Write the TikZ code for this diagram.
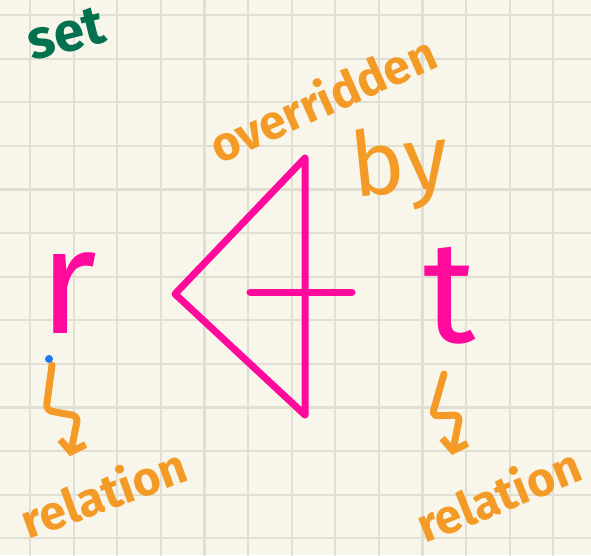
\documentclass[tikz,border=0pt]{standalone}
\usepackage{fontspec}
\setmainfont{Fira Sans}
\usepackage{tikz}
\usetikzlibrary{arrows.meta}
\definecolor{paper}{HTML}{F8F6EA}
\definecolor{gridline}{HTML}{E1DFD3}
\definecolor{hotpink}{HTML}{FF0A9C}
\definecolor{marker}{HTML}{F49A27}
\definecolor{pine}{HTML}{03714F}
\definecolor{dotblue}{HTML}{1A7CF0}
\begin{document}
\begin{tikzpicture}[x=1pt, y=-1pt, line cap=round, line join=round,
  pen/.style={line width=7pt},
  scrawl/.style={text=marker, inner sep=0pt, font=\fontsize{48}{48}\selectfont\bfseries},
  squig/.style={pen, draw=marker, rounded corners=6pt, -{Straight Barb[length=10pt, width=26pt, line width=7pt]}}]
\fill[paper] (0,0) rectangle (591,555);
\useasboundingbox (0,0) rectangle (591,555);
\foreach \k in {0,...,12} {
  \draw[gridline, line width=2.2pt] ({30+43.6*\k},0) -- ({30+43.6*\k},555);
  \draw[gridline, line width=2.2pt] (0,{15+43.6*\k}) -- (591,{15+43.6*\k});
}
\node[text=pine, inner sep=0pt, rotate=14, font=\fontsize{55}{55}\selectfont\bfseries] (set) at (66,34) {set};
\node[scrawl, rotate=24] (over) at (322,98) {overridden};
\node[scrawl, rotate=6, font=\fontsize{90}{90}\selectfont] (by) at (400,168) {by};
\node[text=hotpink, inner sep=0pt, anchor=base, font=\fontsize{150}{150}\selectfont] (r) at (68,333) {r};
\node[text=hotpink, inner sep=0pt, anchor=base, font=\fontsize{145}{145}\selectfont] (t) at (450,342) {t};
\node[scrawl, rotate=20] (relL) at (103,492) {relation};
\node[scrawl, rotate=22] (relR) at (498,494) {relation};
% the "overridden by" symbol
\draw[pen, hotpink] (305,158) -- (175,294) -- (305,415) -- cycle;
\draw[pen, hotpink] (250,292) -- (352,292);
\fill[dotblue] (49,359) circle (4);
\draw[squig] ([shift={(-16,32)}]r.south) -- ++(-6,45) -- ++(32,6) -- ++(-8,40);
\draw[squig] ([shift={(-6,30)}]t.south) -- ++(-12,42) -- ++(28,-1) -- ++(-8,40);
\end{tikzpicture}
\end{document}
